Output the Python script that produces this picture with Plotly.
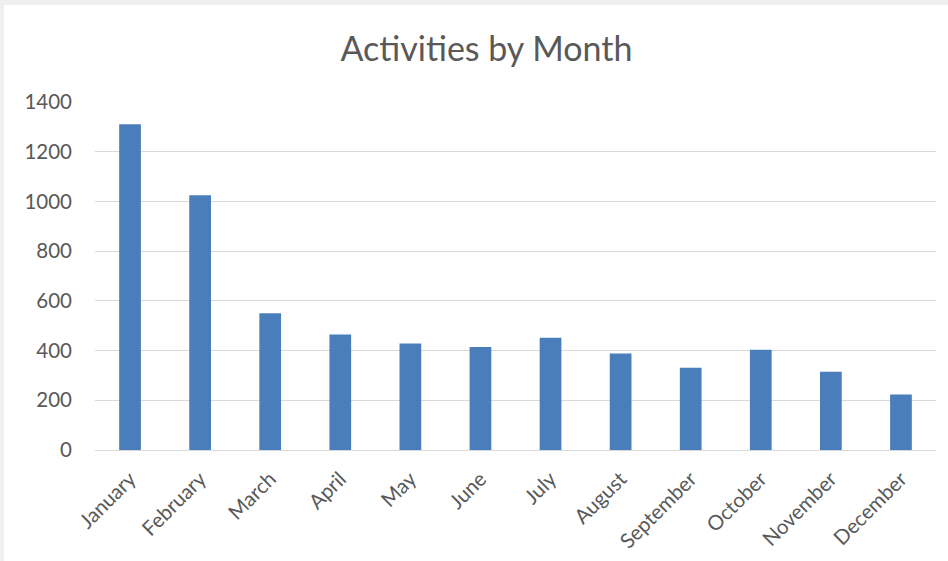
import plotly.graph_objects as go

months = ["January", "February", "March", "April", "May", "June",
          "July", "August", "September", "October", "November", "December"]
activities = [1310, 1025, 550, 465, 428, 414, 452, 388, 331, 403, 315, 223]
y_ticks = [0, 200, 400, 600, 800, 1000, 1200, 1400]

L, R, T, B = 95, 12, 102, 111
W, H = 948, 561
pw, ph = W - L - R, H - T - B

fig = go.Figure(go.Bar(x=months, y=activities,
                       marker=dict(color="#4a7ebb", line=dict(width=0)),
                       width=0.31))

fig.update_layout(
    width=W, height=H,
    margin=dict(l=L, r=R, t=T, b=B, pad=0),
    paper_bgcolor="#f0f0f0",
    plot_bgcolor="rgba(0,0,0,0)",
    title=dict(text="Activities by Month", x=486.5 / W, xanchor="center",
               y=1 - 49 / H, yanchor="middle",
               font=dict(family="Lato, Open Sans, sans-serif", size=34, color="#595959")),
    font=dict(family="Lato, Open Sans, sans-serif", color="#595959", size=20),
    showlegend=False,
    shapes=[dict(type="rect", xref="paper", yref="paper", layer="below",
                 x0=(4 - L) / pw, x1=(W + 10 - L) / pw,
                 y0=-(B + 10) / ph, y1=(H - B - 5) / ph,
                 fillcolor="white", line=dict(width=0))],
)
fig.update_xaxes(tickangle=-45, showgrid=False, showline=False, ticks="",
                 ticklabelstandoff=12, automargin=False,
                 tickfont=dict(size=20.5, color="#595959"))
fig.update_yaxes(range=[0, 1400], tickvals=y_ticks, showgrid=True,
                 gridcolor="#d9d9d9", gridwidth=1, automargin=False,
                 zeroline=True, zerolinecolor="#d9d9d9", zerolinewidth=1,
                 showline=False, ticks="", ticklabelstandoff=22,
                 tickfont=dict(size=20.5, color="#595959"))

fig.write_html("out.html", config={"displayModeBar": False},
               post_script="document.body.style.margin='0';document.body.style.padding='0';document.body.style.overflow='hidden';")
